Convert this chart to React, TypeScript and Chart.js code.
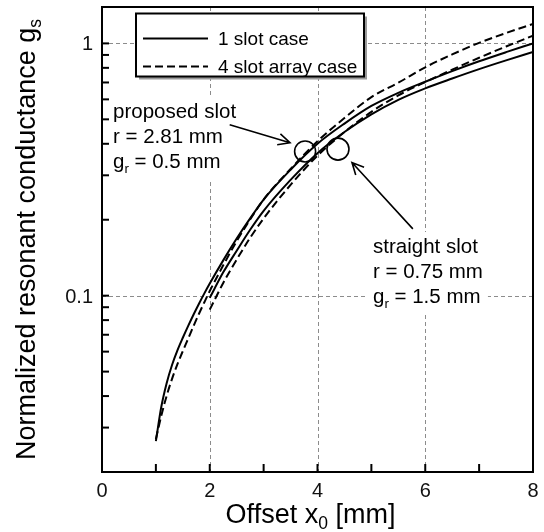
import React, { useEffect, useRef } from 'react';
import { Chart, registerables } from 'chart.js';

Chart.register(...registerables);

// ---------- data ----------
const xProposed = [1, 1.1, 1.2, 1.3, 1.4, 1.5, 1.6, 1.7, 1.8, 1.9, 2, 2.25, 2.5, 2.75, 3, 3.5, 4, 4.5, 5, 5.5, 6, 6.5, 7, 7.5, 8];
const proposed1Slot = [0.0265, 0.0362, 0.045, 0.0531, 0.0607, 0.0681, 0.0759, 0.0842, 0.0929, 0.1021, 0.1117, 0.138, 0.1684, 0.2024, 0.2405, 0.3157, 0.4001, 0.4811, 0.5651, 0.637, 0.7049, 0.7766, 0.8494, 0.9231, 1.0];
const proposed4Slot = [0.027, 0.0334, 0.0401, 0.0468, 0.0535, 0.0603, 0.0676, 0.0759, 0.0848, 0.0942, 0.1043, 0.1319, 0.1645, 0.2005, 0.2405, 0.3179, 0.4094, 0.5059, 0.6124, 0.6985, 0.8039, 0.9042, 1.005, 1.0995, 1.194];
const xStraight = [2, 2.25, 2.5, 2.75, 3, 3.5, 4, 4.5, 5, 5.5, 6, 6.5, 7, 7.5, 8];
const straight1Slot = [0.098, 0.1237, 0.1507, 0.1825, 0.2169, 0.2877, 0.3673, 0.4452, 0.5231, 0.5972, 0.6634, 0.7258, 0.7907, 0.8565, 0.924];
const straight4Slot = [0.088, 0.1123, 0.139, 0.1696, 0.2024, 0.2748, 0.359, 0.4452, 0.5353, 0.6224, 0.7026, 0.7867, 0.877, 0.972, 1.073];

const xMin = 0;
const xMax = 8;
const yMin = 0.02;
const yMax = 1.394;
const xTickValues = [1, 2, 3, 4, 5, 6, 7];
const xLabelValues = [0, 2, 4, 6, 8];
const xLabels = ['0', '2', '4', '6', '8'];
const yMajorValues = [0.1, 1];
const yMajorLabels = ['0.1', '1'];
const yMinorValues = [0.03, 0.04, 0.05, 0.06, 0.07, 0.08, 0.09, 0.2, 0.3, 0.4, 0.5, 0.6, 0.7, 0.8, 0.9];
const xGridValues = [2, 4, 6];
const yGridValues = [0.1, 1];

type Rich = Array<[string, boolean]>;
const legendLabels = ['1 slot case', '4 slot array case'];
const xTitle: Rich = [['Offset x', false], ['0', true], [' [mm]', false]];
const yTitle: Rich = [['Normalized resonant conductance g', false], ['s', true]];
const proposedNote: Rich[] = [[['proposed slot', false]], [['r = 2.81 mm', false]], [['g', false], ['r', true], [' = 0.5 mm', false]]];
const straightNote: Rich[] = [[['straight slot', false]], [['r = 0.75 mm', false]], [['g', false], ['r', true], [' = 1.5 mm', false]]];
const proposedMark = { x: 3.77, y: 0.373 };
const straightMark = { x: 4.38, y: 0.381 };
const proposedArrow = [{ x: 2.37, y: 0.476 }, { x: 3.49, y: 0.404 }];
const straightArrow = [{ x: 5.77, y: 0.184 }, { x: 4.64, y: 0.337 }];

// ---------- styling / layout ----------
const FAMILY = '"Liberation Sans", Arial, Helvetica, sans-serif';
const font = (s: number) => `${s}px ${FAMILY}`;

function richWidth(ctx: CanvasRenderingContext2D, parts: Rich, size: number) {
  let w = 0;
  for (const [t, sub] of parts) {
    ctx.font = font(sub ? size * 0.65 : size);
    w += ctx.measureText(t).width;
  }
  return w;
}
function drawRich(ctx: CanvasRenderingContext2D, parts: Rich, x: number, y: number, size: number) {
  let cx = x;
  for (const [t, sub] of parts) {
    ctx.font = font(sub ? size * 0.65 : size);
    ctx.fillText(t, cx, sub ? y + size * 0.24 : y);
    cx += ctx.measureText(t).width;
  }
  return cx - x;
}

function drawNote(ctx: CanvasRenderingContext2D, lines: Rich[], x: number, firstBase: number, gap: number, size: number, bgOnly: boolean) {
  if (bgOnly) {
    let maxW = 0;
    for (const l of lines) maxW = Math.max(maxW, richWidth(ctx, l, size));
    ctx.fillStyle = '#ffffff';
    ctx.fillRect(x - 5, firstBase - 21, maxW + 10, gap * (lines.length - 1) + 33);
    return;
  }
  ctx.fillStyle = '#000';
  ctx.textBaseline = 'alphabetic';
  ctx.textAlign = 'left';
  lines.forEach((l, i) => drawRich(ctx, l, x, firstBase + i * gap, size));
}

function arrow(ctx: CanvasRenderingContext2D, x1: number, y1: number, x2: number, y2: number) {
  const ang = Math.atan2(y2 - y1, x2 - x1);
  const hl = 13;
  const spread = 0.45;
  ctx.beginPath();
  ctx.moveTo(x1, y1);
  ctx.lineTo(x2, y2);
  ctx.moveTo(x2 - hl * Math.cos(ang - spread), y2 - hl * Math.sin(ang - spread));
  ctx.lineTo(x2, y2);
  ctx.lineTo(x2 - hl * Math.cos(ang + spread), y2 - hl * Math.sin(ang + spread));
  ctx.stroke();
}

const decorPlugin = {
  id: 'decor',
  beforeDatasetsDraw(chart: any) {
    const { ctx, chartArea: a, scales } = chart;
    const xs = scales.x;
    const ys = scales.y;
    ctx.save();
    // dashed grid
    ctx.strokeStyle = '#8c8c8c';
    ctx.lineWidth = 1;
    ctx.setLineDash([4, 3]);
    for (const v of xGridValues) {
      const px = Math.round(xs.getPixelForValue(v)) + 0.5;
      ctx.beginPath();
      ctx.moveTo(px, a.top);
      ctx.lineTo(px, a.bottom);
      ctx.stroke();
    }
    for (const v of yGridValues) {
      const py = Math.round(ys.getPixelForValue(v)) + 0.5;
      ctx.beginPath();
      ctx.moveTo(a.left, py);
      ctx.lineTo(a.right, py);
      ctx.stroke();
    }
    ctx.setLineDash([]);
    // note backgrounds
    drawNote(ctx, proposedNote, a.left + 11, a.top + 111, 25, 20.5, true);
    drawNote(ctx, straightNote, a.left + 271, a.top + 246, 25, 20.5, true);
    // legend box
    const lb = { x: a.left + 34, y: a.top + 6.5, w: 228, h: 63 };
    ctx.fillStyle = '#9a9a9a';
    ctx.fillRect(lb.x + 3, lb.y + 3, lb.w, lb.h);
    ctx.fillStyle = '#fff';
    ctx.fillRect(lb.x, lb.y, lb.w, lb.h);
    ctx.strokeStyle = '#000';
    ctx.lineWidth = 2;
    ctx.strokeRect(lb.x, lb.y, lb.w, lb.h);
    const rows = [25, 53];
    rows.forEach((ry, i) => {
      ctx.setLineDash(i === 1 ? [8, 4] : []);
      ctx.beginPath();
      ctx.moveTo(lb.x + 7, lb.y + ry);
      ctx.lineTo(lb.x + 72, lb.y + ry);
      ctx.stroke();
    });
    ctx.setLineDash([]);
    ctx.fillStyle = '#000';
    ctx.font = font(19);
    ctx.textAlign = 'left';
    ctx.textBaseline = 'alphabetic';
    legendLabels.forEach((t, i) => ctx.fillText(t, lb.x + 82, lb.y + rows[i] + 6.5));
    ctx.restore();
  },
  afterDraw(chart: any) {
    const { ctx, chartArea: a, scales } = chart;
    const xs = scales.x;
    const ys = scales.y;
    ctx.save();
    // notes text
    drawNote(ctx, proposedNote, a.left + 11, a.top + 111, 25, 20.5, false);
    drawNote(ctx, straightNote, a.left + 271, a.top + 246, 25, 20.5, false);
    // circles and arrows
    ctx.strokeStyle = '#000';
    ctx.lineWidth = 1.6;
    for (const [m, r] of [[proposedMark, 10.5], [straightMark, 11]] as Array<[{ x: number; y: number }, number]>) {
      ctx.beginPath();
      ctx.arc(xs.getPixelForValue(m.x), ys.getPixelForValue(m.y), r, 0, Math.PI * 2);
      ctx.stroke();
    }
    for (const ar of [proposedArrow, straightArrow]) {
      arrow(ctx, xs.getPixelForValue(ar[0].x), ys.getPixelForValue(ar[0].y), xs.getPixelForValue(ar[1].x), ys.getPixelForValue(ar[1].y));
    }
    // inside ticks
    ctx.lineWidth = 2;
    for (const v of xTickValues) {
      const px = xs.getPixelForValue(v);
      ctx.beginPath();
      ctx.moveTo(px, a.bottom);
      ctx.lineTo(px, a.bottom - 8);
      ctx.stroke();
    }
    for (const v of [...yMajorValues, ...yMinorValues]) {
      const py = ys.getPixelForValue(v);
      ctx.beginPath();
      ctx.moveTo(a.left, py);
      ctx.lineTo(a.left + 7, py);
      ctx.stroke();
    }
    // frame
    ctx.strokeRect(a.left, a.top, a.right - a.left, a.bottom - a.top);
    // tick labels
    ctx.fillStyle = '#111';
    ctx.font = font(20);
    ctx.textAlign = 'center';
    ctx.textBaseline = 'alphabetic';
    xLabelValues.forEach((v, i) => ctx.fillText(xLabels[i], xs.getPixelForValue(v), a.bottom + 25));
    ctx.textAlign = 'right';
    yMajorValues.forEach((v, i) => ctx.fillText(yMajorLabels[i], a.left - 9, ys.getPixelForValue(v) + 7));
    // axis titles
    ctx.fillStyle = '#000';
    ctx.textAlign = 'left';
    const xw = richWidth(ctx, xTitle, 27);
    drawRich(ctx, xTitle, (a.left + a.right) / 2 - 7 - xw / 2, a.bottom + 51, 27);
    const yw = richWidth(ctx, yTitle, 27);
    ctx.translate(35, (a.top + a.bottom) / 2);
    ctx.rotate(-Math.PI / 2);
    drawRich(ctx, yTitle, -yw / 2, 0, 27);
    ctx.restore();
  },
};

const toPts = (xs: number[], ys: number[]) => xs.map((x, i) => ({ x, y: ys[i] }));

export default function App() {
  const ref = useRef<HTMLCanvasElement | null>(null);
  useEffect(() => {
    if (!ref.current) return;
    const common = { borderColor: '#000', borderWidth: 2, pointRadius: 0, fill: false, cubicInterpolationMode: 'monotone' as const };
    const chart = new Chart(ref.current, {
      type: 'line',
      data: {
        datasets: [
          { label: '1 slot case (proposed)', data: toPts(xProposed, proposed1Slot), ...common },
          { label: '4 slot array case (proposed)', data: toPts(xProposed, proposed4Slot), ...common, borderDash: [8, 4] },
          { label: '1 slot case (straight)', data: toPts(xStraight, straight1Slot), ...common },
          { label: '4 slot array case (straight)', data: toPts(xStraight, straight4Slot), ...common, borderDash: [8, 4] },
        ],
      },
      options: {
        responsive: false,
        devicePixelRatio: 1,
        animation: false,
        parsing: false as any,
        layout: { padding: { left: 102, top: 7, right: 11, bottom: 60 } },
        plugins: { legend: { display: false }, tooltip: { enabled: false } },
        scales: {
          x: { type: 'linear', display: false, min: xMin, max: xMax },
          y: { type: 'logarithmic', display: false, min: yMin, max: yMax },
        },
      },
      plugins: [decorPlugin],
    });
    return () => chart.destroy();
  }, []);
  return (
    <div style={{ position: 'absolute', left: 0, top: 0, width: 544, height: 532, background: '#fff' }}>
      <canvas ref={ref} width={544} height={532} style={{ display: 'block', width: 544, height: 532 }} />
    </div>
  );
}
